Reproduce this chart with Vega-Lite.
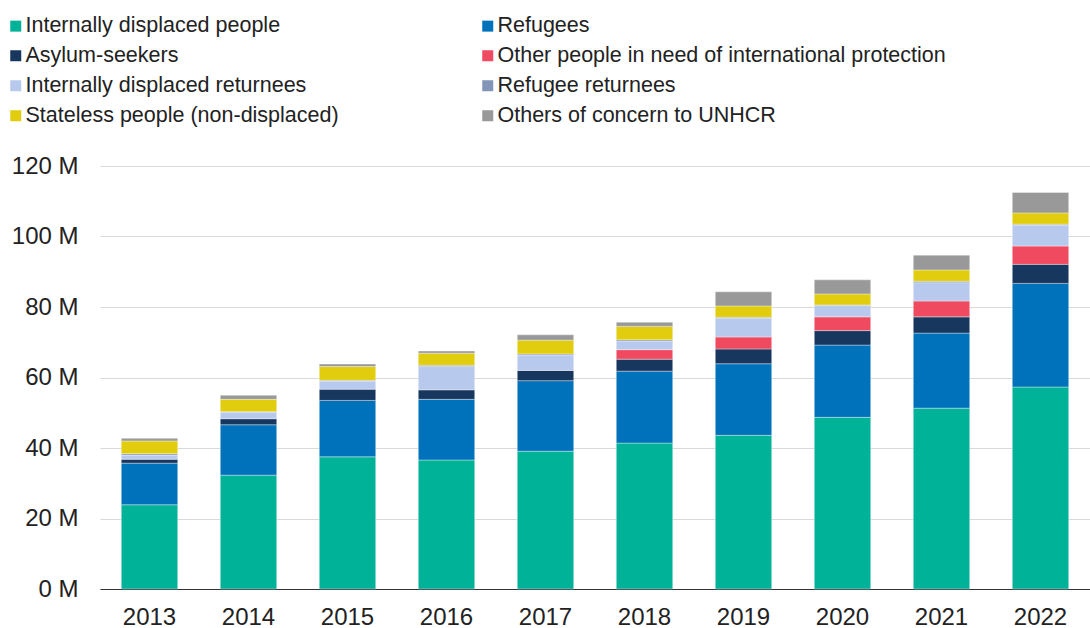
{
  "$schema": "https://vega.github.io/schema/vega-lite/v6.json",
  "width": 990,
  "height": 423,
  "autosize": {"type": "none"},
  "padding": {"left": 100, "top": 166, "right": 0, "bottom": 39},
  "config": {"font": "Liberation Sans", "view": {"stroke": null}},
  "data": {"values": [
    {"year": "2013", "category": "Internally displaced people", "value": 23.9},
    {"year": "2013", "category": "Refugees", "value": 11.8},
    {"year": "2013", "category": "Asylum-seekers", "value": 1.1},
    {"year": "2013", "category": "Internally displaced returnees", "value": 1.2},
    {"year": "2013", "category": "Refugee returnees", "value": 0.4},
    {"year": "2013", "category": "Stateless people (non-displaced)", "value": 3.6},
    {"year": "2013", "category": "Others of concern to UNHCR", "value": 0.75},
    {"year": "2014", "category": "Internally displaced people", "value": 32.3},
    {"year": "2014", "category": "Refugees", "value": 14.3},
    {"year": "2014", "category": "Asylum-seekers", "value": 1.7},
    {"year": "2014", "category": "Internally displaced returnees", "value": 1.9},
    {"year": "2014", "category": "Refugee returnees", "value": 0.1},
    {"year": "2014", "category": "Stateless people (non-displaced)", "value": 3.5},
    {"year": "2014", "category": "Others of concern to UNHCR", "value": 1.15},
    {"year": "2015", "category": "Internally displaced people", "value": 37.5},
    {"year": "2015", "category": "Refugees", "value": 16.0},
    {"year": "2015", "category": "Asylum-seekers", "value": 3.2},
    {"year": "2015", "category": "Internally displaced returnees", "value": 2.3},
    {"year": "2015", "category": "Refugee returnees", "value": 0.2},
    {"year": "2015", "category": "Stateless people (non-displaced)", "value": 3.9},
    {"year": "2015", "category": "Others of concern to UNHCR", "value": 0.7},
    {"year": "2016", "category": "Internally displaced people", "value": 36.6},
    {"year": "2016", "category": "Refugees", "value": 17.2},
    {"year": "2016", "category": "Asylum-seekers", "value": 2.7},
    {"year": "2016", "category": "Internally displaced returnees", "value": 6.6},
    {"year": "2016", "category": "Refugee returnees", "value": 0.4},
    {"year": "2016", "category": "Stateless people (non-displaced)", "value": 3.4},
    {"year": "2016", "category": "Others of concern to UNHCR", "value": 0.6},
    {"year": "2017", "category": "Internally displaced people", "value": 39.1},
    {"year": "2017", "category": "Refugees", "value": 20.0},
    {"year": "2017", "category": "Asylum-seekers", "value": 2.9},
    {"year": "2017", "category": "Internally displaced returnees", "value": 4.4},
    {"year": "2017", "category": "Refugee returnees", "value": 0.3},
    {"year": "2017", "category": "Stateless people (non-displaced)", "value": 3.9},
    {"year": "2017", "category": "Others of concern to UNHCR", "value": 1.5},
    {"year": "2018", "category": "Internally displaced people", "value": 41.4},
    {"year": "2018", "category": "Refugees", "value": 20.4},
    {"year": "2018", "category": "Asylum-seekers", "value": 3.4},
    {"year": "2018", "category": "Other people in need of international protection", "value": 2.7},
    {"year": "2018", "category": "Internally displaced returnees", "value": 2.4},
    {"year": "2018", "category": "Refugee returnees", "value": 0.4},
    {"year": "2018", "category": "Stateless people (non-displaced)", "value": 3.8},
    {"year": "2018", "category": "Others of concern to UNHCR", "value": 1.2},
    {"year": "2019", "category": "Internally displaced people", "value": 43.6},
    {"year": "2019", "category": "Refugees", "value": 20.3},
    {"year": "2019", "category": "Asylum-seekers", "value": 4.2},
    {"year": "2019", "category": "Other people in need of international protection", "value": 3.4},
    {"year": "2019", "category": "Internally displaced returnees", "value": 5.3},
    {"year": "2019", "category": "Refugee returnees", "value": 0.3},
    {"year": "2019", "category": "Stateless people (non-displaced)", "value": 3.2},
    {"year": "2019", "category": "Others of concern to UNHCR", "value": 4.0},
    {"year": "2020", "category": "Internally displaced people", "value": 48.7},
    {"year": "2020", "category": "Refugees", "value": 20.5},
    {"year": "2020", "category": "Asylum-seekers", "value": 4.1},
    {"year": "2020", "category": "Other people in need of international protection", "value": 3.9},
    {"year": "2020", "category": "Internally displaced returnees", "value": 3.2},
    {"year": "2020", "category": "Refugee returnees", "value": 0.2},
    {"year": "2020", "category": "Stateless people (non-displaced)", "value": 3.1},
    {"year": "2020", "category": "Others of concern to UNHCR", "value": 4.0},
    {"year": "2021", "category": "Internally displaced people", "value": 51.3},
    {"year": "2021", "category": "Refugees", "value": 21.3},
    {"year": "2021", "category": "Asylum-seekers", "value": 4.6},
    {"year": "2021", "category": "Other people in need of international protection", "value": 4.5},
    {"year": "2021", "category": "Internally displaced returnees", "value": 5.2},
    {"year": "2021", "category": "Refugee returnees", "value": 0.4},
    {"year": "2021", "category": "Stateless people (non-displaced)", "value": 3.2},
    {"year": "2021", "category": "Others of concern to UNHCR", "value": 4.2},
    {"year": "2022", "category": "Internally displaced people", "value": 57.3},
    {"year": "2022", "category": "Refugees", "value": 29.4},
    {"year": "2022", "category": "Asylum-seekers", "value": 5.4},
    {"year": "2022", "category": "Other people in need of international protection", "value": 5.2},
    {"year": "2022", "category": "Internally displaced returnees", "value": 5.9},
    {"year": "2022", "category": "Refugee returnees", "value": 0.3},
    {"year": "2022", "category": "Stateless people (non-displaced)", "value": 3.2},
    {"year": "2022", "category": "Others of concern to UNHCR", "value": 5.8}
  ]},
  "transform": [
    {"calculate": "indexof(['Internally displaced people','Refugees','Asylum-seekers','Other people in need of international protection','Internally displaced returnees','Refugee returnees','Stateless people (non-displaced)','Others of concern to UNHCR'], datum.category)", "as": "rank"}
  ],
  "mark": {"type": "bar", "stroke": "white", "strokeWidth": 0.6, "strokeOpacity": 0.6},
  "encoding": {
    "x": {
      "field": "year", "type": "ordinal",
      "scale": {"paddingInner": 0.43, "paddingOuter": 0.215},
      "axis": {"title": null, "labelAngle": 0, "ticks": false, "labelPadding": 16, "labelFontSize": 24, "labelColor": "#222", "domainColor": "#333", "domainWidth": 1, "grid": false}
    },
    "y": {
      "field": "value", "type": "quantitative", "stack": "zero",
      "scale": {"domain": [0, 120], "nice": false},
      "axis": {"title": null, "values": [0, 20, 40, 60, 80, 100, 120], "labelExpr": "datum.value + ' M'", "grid": true, "gridColor": "#d9d9d9", "gridWidth": 1, "domain": false, "ticks": false, "labelPadding": 22, "labelFontSize": 24, "labelColor": "#222"}
    },
    "color": {
      "field": "category", "type": "nominal",
      "scale": {
        "domain": ["Internally displaced people", "Refugees", "Asylum-seekers", "Other people in need of international protection", "Internally displaced returnees", "Refugee returnees", "Stateless people (non-displaced)", "Others of concern to UNHCR"],
        "range": ["#00B398", "#0072BC", "#18375F", "#EF4A60", "#B8C9EE", "#8395B9", "#E1CC0D", "#999999"]
      },
      "legend": {
        "title": null, "orient": "none", "legendX": -95, "legendY": -151, "columns": 2, "direction": "horizontal", "padding": 0,
        "symbolType": "square", "symbolSize": 121, "symbolStrokeWidth": 0,
        "labelFontSize": 21.5, "labelColor": "#222", "labelOffset": -1, "rowPadding": 7, "columnPadding": 138, "labelLimit": 600
      }
    },
    "order": {"field": "rank", "type": "quantitative"}
  }
}
